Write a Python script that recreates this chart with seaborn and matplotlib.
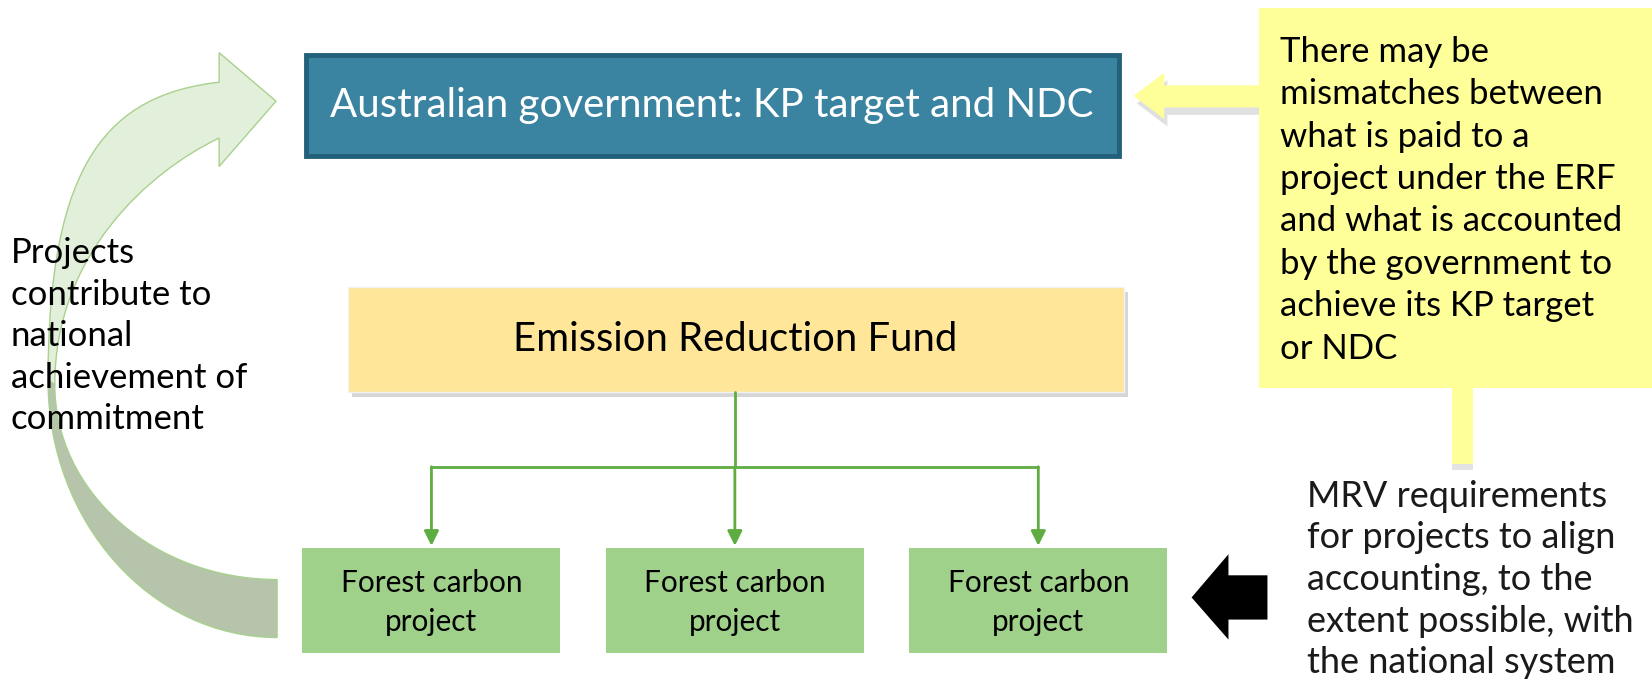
import matplotlib
matplotlib.use("Agg")
import matplotlib.pyplot as plt
import seaborn as sns
from matplotlib.patches import Rectangle, Polygon, PathPatch
from matplotlib.path import Path

# texts of the diagram
gov_label = "Australian government: KP target and NDC"
fund_label = "Emission Reduction Fund"
project_labels = ["Forest carbon\nproject", "Forest carbon\nproject", "Forest carbon\nproject"]
left_note = "Projects\ncontribute to\nnational\nachievement of\ncommitment"
mismatch_note = ("There may be\nmismatches between\nwhat is paid to a\nproject under the ERF\n"
                 "and what is accounted\nby the government to\nachieve its KP target\nor NDC")
mrv_note = ("MRV requirements\nfor projects to align\naccounting, to the\n"
            "extent possible, with\nthe national system")

sns.set_theme(style="white")
plt.rcParams["font.family"] = ["Lato", "DejaVu Sans"]

fig = plt.figure(figsize=(16.52, 6.87), dpi=100)
ax = fig.add_axes([0, 0, 1, 1])
ax.set_xlim(0, 1568)
ax.set_ylim(652, 0)
ax.axis("off")

# curved arrow on the left (light upper part, darker lower part)
M, C, L, CL = Path.MOVETO, Path.CURVE4, Path.LINETO, Path.CLOSEPOLY
upper = [(45.6, 361), (45.6, 152), (104, 90), (208, 78),
         (208, 50), (262, 96), (208, 158), (208, 131),
         (141, 163), (52, 242), (52, 365), (45.6, 361)]
upper_codes = [M, C, C, C, L, L, L, L, C, C, C, CL]
lower = [(45.6, 361), (45.6, 495), (143, 605), (263, 605), (263, 550),
         (146, 550), (52, 467), (52, 365), (45.6, 361)]
lower_codes = [M, C, C, C, L, C, C, C, CL]
ax.add_patch(PathPatch(Path(lower, lower_codes), fc="#b5c4ab", ec="#a9d18e", lw=1))
ax.add_patch(PathPatch(Path(upper, upper_codes), fc="#e2efda", ec="#a9d18e", lw=1))

ax.text(10, 319, left_note, fontsize=25, color="black", ha="left", va="center",
        linespacing=1.37)

# government box
ax.add_patch(Rectangle((290, 52), 772, 96, fc="#3a84a1", ec="#23607a", lw=3.5))
ax.text(676, 100, gov_label, fontsize=29, color="white", ha="center", va="center")

# yellow call-out with arrow and stem
arrow_y = [(1076, 91), (1105, 69), (1105, 81), (1196, 81), (1196, 102),
           (1105, 102), (1105, 113)]
ax.add_patch(Polygon([(x + 3, y + 7) for x, y in arrow_y], fc="#e0e0e0", ec="none"))
ax.add_patch(Polygon(arrow_y, fc="#ffff99", ec="none"))
ax.add_patch(Rectangle((1195, 8), 380, 360, fc="#ffff99", ec="none"))
ax.add_patch(Rectangle((1378, 440), 20, 6, fc="#e3e3e3", ec="none"))
ax.add_patch(Rectangle((1378, 366), 20, 74, fc="#ffff99", ec="none"))
ax.text(1215, 190, mismatch_note, fontsize=25, color="black", ha="left", va="center",
        linespacing=1.40)

# fund box
ax.add_patch(Rectangle((334, 277), 737, 100, fc="#d6d6d6", ec="none"))
ax.add_patch(Rectangle((330, 272), 737, 100, fc="#ffe699", ec="#f2f2f2", lw=1))
ax.text(698, 322, fund_label, fontsize=28.8, color="black", ha="center", va="center")

# connectors
green = "#5fad41"
box_x = [287, 575, 863]
centres = [x0 + 122.5 for x0 in box_x]
ax.plot([centres[1], centres[1]], [372, 443], color=green, lw=2)
ax.plot([centres[0], centres[-1]], [443, 443], color=green, lw=2)
for xc in centres:
    ax.annotate("", xy=(xc, 518), xytext=(xc, 443),
                arrowprops=dict(arrowstyle="-|>", color=green, lw=2,
                                mutation_scale=22, shrinkA=0, shrinkB=0))

# project boxes
for x0, lab in zip(box_x, project_labels):
    ax.add_patch(Rectangle((x0, 520), 245, 100, fc="#a0d18b", ec="none"))
    ax.text(x0 + 122.5, 572, lab, fontsize=21.4, color="black", ha="center", va="center",
            linespacing=1.48)

# black arrow and MRV note
black_arrow = [(1131, 567), (1166, 526), (1166, 546), (1203, 546), (1203, 588),
               (1166, 588), (1166, 607)]
ax.add_patch(Polygon(black_arrow, fc="black", ec="none"))
ax.text(1241, 550, mrv_note, fontsize=26, color="#1a1a1a",
        ha="left", va="center", linespacing=1.32)

fig.savefig("out.png", dpi=100, facecolor="white")
